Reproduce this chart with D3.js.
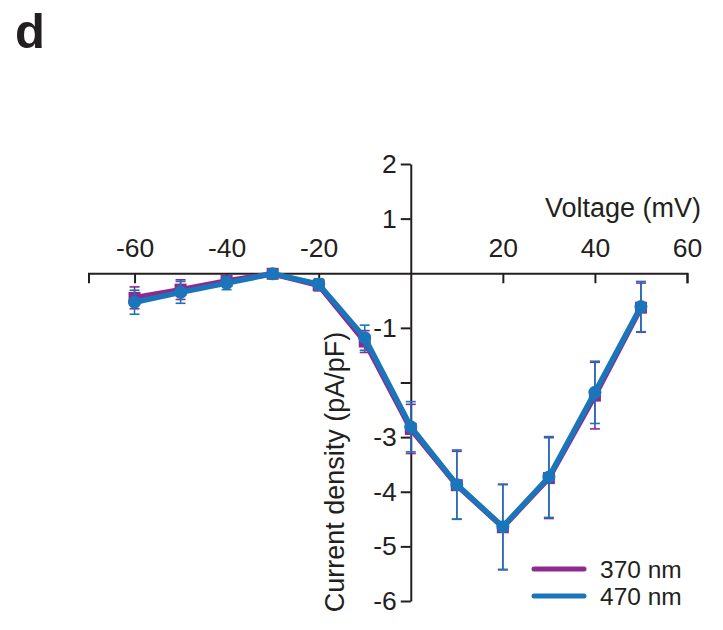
<!DOCTYPE html>
<html><head><meta charset="utf-8">
<script src="https://cdn.jsdelivr.net/npm/d3@7"></script>
<style>body{margin:0;background:#fff}svg{display:block}text{font-family:Arial,"Liberation Sans",sans-serif;fill:#231f20}</style>
</head><body><svg id="c" width="723" height="630"></svg>
<script>
const voltages = [-60,-50,-40,-30,-20,-10,0,10,20,30,40,50];
const mean370 = [-0.45,-0.30,-0.14,-0.01,-0.22,-1.25,-2.85,-3.88,-4.65,-3.75,-2.24,-0.63];
const err370  = [0.20,0.18,0.10,0.05,0.10,0.20,0.45,0.62,0.78,0.74,0.61,0.45];
const mean470 = [-0.53,-0.35,-0.18,-0.01,-0.20,-1.18,-2.81,-3.87,-4.64,-3.73,-2.18,-0.61];
const err470  = [0.22,0.20,0.12,0.05,0.10,0.23,0.46,0.635,0.78,0.74,0.57,0.46];
const xMajor = [-60,-40,-20,20,40,60];
const xMinor = [-70,-50,-30,-10,10,30,50];
const yMajor = [2,1,-1,-2,-3,-4,-5,-6];
const yLabels = {"2":"2","1":"1","-1":"-1","-2":"","-3":"-3","-4":"-4","-5":"-5","-6":"-6"};
const yMinor = [1.5,0.5,-0.5,-1.5,-2.5,-3.5,-4.5,-5.5];
const seriesNames = ["370 nm","470 nm"];
const colors = ["#8e2a8e","#1b75bb"];

const svg = d3.select("#c");
const x = d3.scaleLinear().domain([-70,60]).range([88.5,687]);
const y = d3.scaleLinear().domain([-6,2]).range([601,164]);
const ink = "#231f20";

// panel letter
svg.append("text").attr("x",15).attr("y",48).attr("font-size",49).attr("font-weight","bold").text("d");

// X axis
const gx = svg.append("g").attr("transform",`translate(0,${y(0)})`);
gx.call(d3.axisTop(x).tickValues(xMinor).tickSize(-5).tickFormat(""));
gx.call(d3.axisTop(x).tickValues(xMajor).tickSize(-10).tickPadding(16.5).tickFormat(d=>String(d)));
gx.selectAll("path.domain").attr("stroke",ink).attr("stroke-width",2);
gx.selectAll(".tick line").attr("stroke",ink).attr("stroke-width",2);
gx.selectAll(".tick text").attr("font-size",26.5).attr("fill",ink).attr("font-family","Arial, 'Liberation Sans', sans-serif");

// Y axis
const gy = svg.append("g").attr("transform",`translate(${x(0)},0)`);
gy.call(d3.axisLeft(y).tickValues(yMinor).tickSize(5).tickFormat(""));
gy.call(d3.axisLeft(y).tickValues(yMajor).tickSizeInner(10).tickSizeOuter(0).tickPadding(4).tickFormat(d=>yLabels[String(d)]));
gy.selectAll("path.domain").attr("stroke",ink).attr("stroke-width",2);
gy.selectAll(".tick line").attr("stroke",ink).attr("stroke-width",2);
gy.selectAll(".tick text").attr("font-size",26.5).attr("fill",ink).attr("font-family","Arial, 'Liberation Sans', sans-serif");

// axis titles
svg.append("text").attr("x",545).attr("y",217).attr("font-size",27).text("Voltage (mV)");
svg.append("text").attr("transform","translate(344,472) rotate(-90)").attr("text-anchor","middle")
  .attr("font-size",27).text("Current density (pA/pF)");

// series
const series = [
  {means:mean370, errs:err370, color:colors[0], marker:"square"},
  {means:mean470, errs:err470, color:colors[1], marker:"circle"}
];
const line = d3.line().x(d=>x(d.v)).y(d=>y(d.m));
series.forEach(s=>{
  const pts = voltages.map((v,i)=>({v, m:s.means[i], e:s.errs[i]}));
  const g = svg.append("g");
  const eb = g.append("g").attr("stroke",s.color).attr("stroke-width",1.6);
  pts.forEach(p=>{
    eb.append("line").attr("x1",x(p.v)).attr("x2",x(p.v)).attr("y1",y(p.m+p.e)).attr("y2",y(p.m-p.e));
    eb.append("line").attr("x1",x(p.v)-5).attr("x2",x(p.v)+5).attr("y1",y(p.m+p.e)).attr("y2",y(p.m+p.e));
    eb.append("line").attr("x1",x(p.v)-5).attr("x2",x(p.v)+5).attr("y1",y(p.m-p.e)).attr("y2",y(p.m-p.e));
  });
  g.append("path").datum(pts).attr("d",line).attr("fill","none").attr("stroke",s.color)
    .attr("stroke-width",5.5).attr("stroke-linejoin","round");
  if(s.marker==="square"){
    g.selectAll("rect").data(pts).join("rect").attr("x",d=>x(d.v)-6).attr("y",d=>y(d.m)-6)
      .attr("width",12).attr("height",12).attr("fill",s.color);
  } else {
    g.selectAll("circle").data(pts).join("circle").attr("cx",d=>x(d.v)).attr("cy",d=>y(d.m))
      .attr("r",6.5).attr("fill",s.color);
  }
});

// legend
const leg = svg.append("g");
[569,596].forEach((ly,i)=>{
  leg.append("line").attr("x1",534).attr("x2",584).attr("y1",ly).attr("y2",ly)
    .attr("stroke",colors[i]).attr("stroke-width",5).attr("stroke-linecap","round");
  leg.append("text").attr("x",600).attr("y",ly+9).attr("font-size",24.5).text(seriesNames[i]);
});
</script></body></html>
